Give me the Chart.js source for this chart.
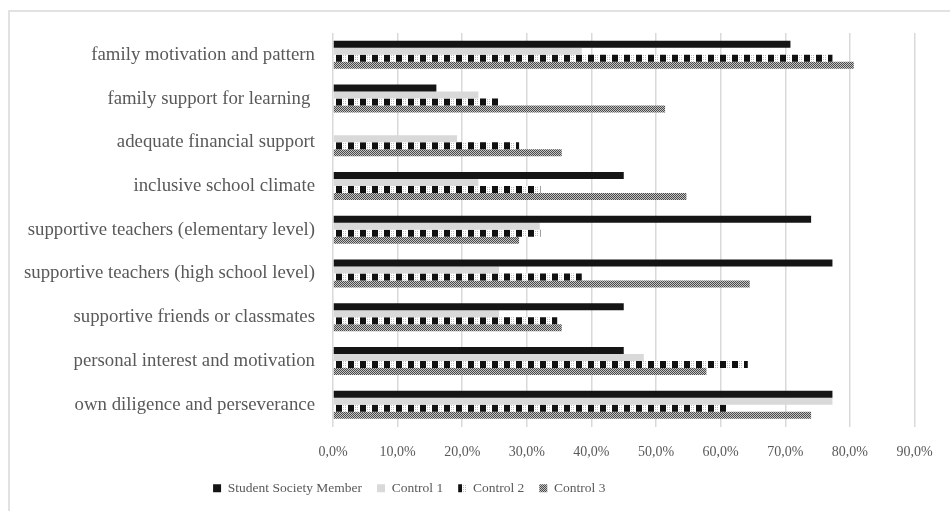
<!DOCTYPE html>
<html>
<head>
<meta charset="utf-8">
<script src="https://cdn.jsdelivr.net/npm/chart.js@4"></script>
<style>
  body { margin: 0; background: #fff; }
</style>
</head>
<body>
<canvas id="myChart" width="950" height="511"></canvas>
<script>
const categories = [
  "family motivation and pattern",
  "family support for learning ",
  "adequate financial support",
  "inclusive school climate",
  "supportive teachers (elementary level)",
  "supportive teachers (high school level)",
  "supportive friends or classmates",
  "personal interest and motivation",
  "own diligence and perseverance"
];
const seriesNames = ["Student Society Member", "Control 1", "Control 2", "Control 3"];
// values in percent
const studentSociety = [70.8, 16.0, 0, 45.0, 74.0, 77.3, 45.0, 45.0, 77.3];
const control1 = [38.5, 22.5, 19.2, 22.5, 32.0, 25.7, 25.7, 48.1, 77.3];
const control2 = [77.3, 25.7, 28.8, 32.1, 32.1, 38.5, 34.7, 64.2, 61.0];
const control3 = [80.6, 51.4, 35.4, 54.7, 28.8, 64.5, 35.4, 57.8, 74.0];
const xTicks = [0, 10, 20, 30, 40, 50, 60, 70, 80, 90];

const ctx = document.getElementById("myChart").getContext('2d')

function makePattern(w, h, draw) {
  const c = document.createElement('canvas');
  c.width = w; c.height = h;
  const pc = c.getContext('2d');
  draw(pc);
  return ctx.createPattern(c, 'repeat');
}

// black dashes with white gaps
const pat2 = makePattern(12, 2, p => {
  p.fillStyle = '#ffffff'; p.fillRect(0, 0, 12, 2);
  p.fillStyle = '#111111'; p.fillRect(0, 0, 6, 2);
  p.fillStyle = '#bbbbbb'; p.fillRect(7, 1, 1, 1); p.fillRect(9, 1, 1, 1);
});
// fine gray checker
const pat3 = makePattern(2, 2, p => {
  p.fillStyle = '#c4c4c4'; p.fillRect(0, 0, 2, 2);
  p.fillStyle = '#4a4a4a'; p.fillRect(0, 0, 1, 1); p.fillRect(1, 1, 1, 1);
});

const frame = {
  id: 'frame',
  beforeDraw(chart) {
    const c = chart.ctx;
    c.save();
    c.strokeStyle = '#d9d9d9';
    c.lineWidth = 1.5;
    c.beginPath();
    c.moveTo(9, 520);
    c.lineTo(9, 11);
    c.lineTo(960, 11);
    c.stroke();
    c.restore();
  }
};

// legend sits left of centre in the original
const legendShift = {
  id: 'legendShift',
  afterLayout(chart) {
    chart.legend.left -= 48;
    chart.legend.right -= 48;
    chart.legend.top += 4;
    chart.legend.bottom += 4;
  }
};

const textColor = '#595959';
const fontFamily = "'Liberation Serif', 'Times New Roman', serif";

const data = {
  labels: categories,
  datasets: [
    { label: seriesNames[0], data: studentSociety, backgroundColor: '#151515' },
    { label: seriesNames[1], data: control1, backgroundColor: '#d9d9d9' },
    { label: seriesNames[2], data: control2, backgroundColor: pat2 },
    { label: seriesNames[3], data: control3, backgroundColor: pat3 }
  ]
};

const options = {
  indexAxis: 'y',
  responsive: false,
  animation: false,
  maintainAspectRatio: false,
  datasets: { bar: { categoryPercentage: 0.64, barPercentage: 1.0, borderWidth: 0 } },
  layout: { padding: { top: 33, right: 35.5, left: 0, bottom: 10 } },
  plugins: {
    tooltip: { enabled: false },
    legend: {
      position: 'bottom',
      labels: {
        color: textColor,
        font: { family: fontFamily, size: 13.5 },
        boxWidth: 8,
        boxHeight: 8,
        padding: 15
      }
    }
  },
  scales: {
    x: {
      min: 0,
      max: 90,
      afterBuildTicks: s => { s.ticks = xTicks.map(v => ({ value: v })); },
      afterFit: s => { s.height = 36; },
      grid: { color: '#d9d9d9', lineWidth: 1.5, drawTicks: false },
      border: { display: false },
      ticks: {
        color: textColor,
        font: { family: fontFamily, size: 14 },
        padding: 17,
        callback: v => v.toFixed(1).replace('.', ',') + '%'
      }
    },
    y: {
      grid: { display: false },
      border: { display: false },
      afterFit: s => { s.width = 333; },
      ticks: {
        color: textColor,
        font: { family: fontFamily, size: 18.8 },
        padding: 10,
        autoSkip: false
      }
    }
  }
};

const myChart = new Chart(ctx, { type: 'bar', data: data, options: options, plugins: [frame, legendShift] });
</script>
</body>
</html>
